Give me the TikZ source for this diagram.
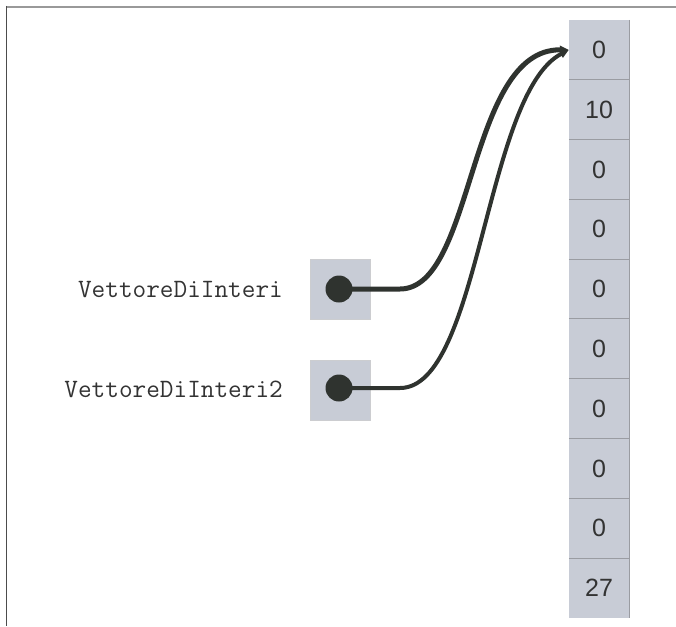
\documentclass[tikz,border=0pt]{standalone}
\usepackage{fontspec}
\setmainfont{Liberation Sans}
\usetikzlibrary{arrows.meta,positioning}
\definecolor{cellfill}{HTML}{C8CCD6}
\definecolor{cellline}{HTML}{9A9CA2}
\definecolor{ink}{HTML}{2F332F}
\definecolor{txt}{HTML}{333333}

\begin{document}
\begin{tikzpicture}[x=1pt,y=-1pt,
  cell/.style={fill=cellfill,minimum width=60pt,minimum height=59.8pt,inner sep=0pt,text=txt,font=\fontsize{25}{25}\selectfont},
  refbox/.style={draw=cellline!50,line width=0.8pt,fill=cellfill,minimum size=60pt,inner sep=0pt},
  dot/.style={circle,fill=ink,minimum size=27pt,inner sep=0pt},
  varname/.style={anchor=east,inner sep=0pt,text=txt,font=\ttfamily\fontsize{26.5}{26.5}\selectfont},
  link/.style={draw=ink,line cap=round,-{Triangle[length=9pt,width=8pt]}}]
\useasboundingbox (0,0) rectangle (676,626);
% frame
\draw [gray!80,line width=1.5pt] (6,7) -- (676,7);
\draw [black!70,line width=1.5pt] (6.5,6) -- (6.5,626);
% array cells
\foreach \v [count=\i from 0] in {0,10,0,0,0,0,0,0,0,27}
  \node [cell] (c\i) at (599,{49.9+59.8*\i}) {\v};
\foreach \i in {1,...,9}
  \draw [cellline,line width=1pt] (c\i.north west) -- (c\i.north east);
\draw [cellline,line width=1pt] (c0.north east) -- (c9.south east);
% reference boxes
\node [refbox] (b1) at (340,289) {};
\node [refbox] (b2) at (340,390) {};
\node [dot] (d1) at (339,289) {};
\node [dot] (d2) at (339,388) {};
\node [varname] (v1) at (283,290) {VettoreDiInteri};
\node [varname] (v2) at (283,389) {VettoreDiInteri2};
% pointers
\coordinate (h1) at (400,289);
\coordinate (h2) at (400,388);
\draw [link,line width=5pt] (d1.center) -- (h1) .. controls +(75,0) and +(-102,-1) .. (c0.west);
\draw [link,line width=4pt] (d2.center) -- (h2) .. controls +(80,0) and +(-84,44) .. (c0.west);
\end{tikzpicture}
\end{document}
